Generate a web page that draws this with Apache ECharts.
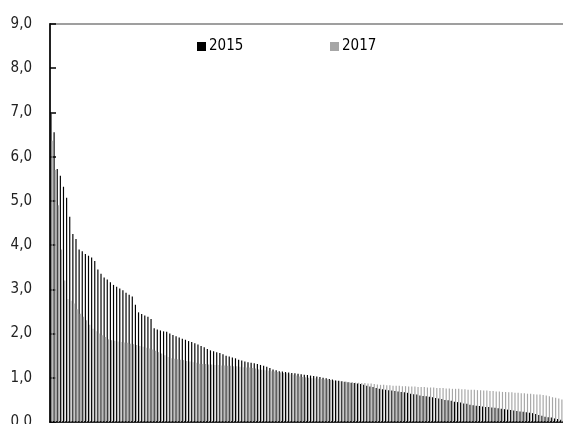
<!DOCTYPE html>
<html>
<head>
<meta charset="utf-8">
<script src="https://cdn.jsdelivr.net/npm/echarts@6/dist/echarts.min.js"></script>
<style>html,body{margin:0;padding:0;background:#fff}#c{width:563px;height:424px}</style>
</head>
<body>
<div id="c"></div>
<script>
var seriesNames = ['2015', '2017'];
var values2015 = [6.97,6.55,5.72,5.57,5.32,5.07,4.64,4.25,4.14,3.90,3.86,3.80,3.76,3.72,3.64,3.45,3.35,3.27,3.22,3.16,
3.10,3.06,3.02,2.98,2.92,2.88,2.84,2.65,2.48,2.44,2.41,2.38,2.33,2.12,2.09,2.07,2.05,2.04,2.00,1.97,
1.94,1.91,1.88,1.86,1.83,1.81,1.78,1.75,1.72,1.69,1.65,1.62,1.60,1.58,1.56,1.53,1.50,1.48,1.46,1.44,
1.41,1.39,1.37,1.35,1.34,1.33,1.31,1.29,1.27,1.25,1.22,1.19,1.17,1.15,1.14,1.13,1.12,1.11,1.10,1.09,
1.08,1.07,1.06,1.05,1.04,1.03,1.02,1.00,0.99,0.97,0.96,0.94,0.93,0.92,0.91,0.90,0.89,0.88,0.87,0.86,
0.84,0.82,0.80,0.79,0.77,0.75,0.74,0.73,0.72,0.71,0.70,0.69,0.68,0.67,0.66,0.64,0.63,0.62,0.60,0.59,
0.58,0.57,0.56,0.54,0.53,0.52,0.50,0.49,0.48,0.46,0.45,0.44,0.42,0.41,0.39,0.38,0.37,0.36,0.35,0.34,
0.34,0.33,0.32,0.31,0.30,0.29,0.28,0.27,0.26,0.25,0.24,0.23,0.22,0.21,0.20,0.18,0.16,0.14,0.12,0.11,
0.10,0.08,0.07,0.05,0.04];
var values2017 = [6.36,5.70,4.90,3.90,3.20,2.78,2.74,2.68,2.55,2.45,2.38,2.30,2.20,2.11,2.05,2.00,1.96,1.92,1.87,1.85,
1.84,1.82,1.81,1.80,1.79,1.77,1.76,1.74,1.72,1.70,1.68,1.66,1.64,1.61,1.58,1.55,1.51,1.47,1.44,1.43,
1.42,1.41,1.40,1.38,1.37,1.35,1.34,1.32,1.31,1.31,1.30,1.30,1.29,1.29,1.28,1.28,1.27,1.27,1.26,1.26,
1.25,1.24,1.23,1.23,1.22,1.21,1.19,1.18,1.17,1.16,1.15,1.14,1.13,1.12,1.11,1.10,1.08,1.07,1.05,1.03,
1.02,1.01,1.00,0.99,0.99,0.98,0.97,0.96,0.96,0.95,0.94,0.93,0.92,0.91,0.91,0.90,0.90,0.89,0.89,0.88,
0.88,0.87,0.87,0.86,0.85,0.84,0.84,0.83,0.83,0.82,0.82,0.82,0.81,0.81,0.80,0.80,0.80,0.79,0.79,0.79,
0.78,0.78,0.78,0.77,0.77,0.77,0.76,0.76,0.75,0.75,0.75,0.74,0.74,0.73,0.73,0.73,0.72,0.72,0.71,0.71,
0.70,0.70,0.69,0.69,0.68,0.68,0.67,0.67,0.66,0.66,0.65,0.65,0.64,0.64,0.63,0.62,0.62,0.61,0.60,0.58,
0.56,0.55,0.53,0.51,0.50];
var categories = values2015.map(function (v, i) { return String(i + 1); });
var yTicks = { min: 0, max: 9, interval: 1 };

var FONT = '"DejaVu Sans Condensed", "Liberation Sans Narrow", sans-serif';
var chart = echarts.init(document.getElementById('c'), null, { renderer: 'canvas' });
function legendAt(name, left) {
  return {
    top: 39, left: left, padding: 0, itemWidth: 9, itemHeight: 9, itemGap: 0, icon: 'rect',
    textStyle: { fontFamily: FONT, fontSize: 15, color: '#000', padding: [0, 0, 0, -2] },
    data: [name]
  };
}
chart.setOption({
  animation: false,
  backgroundColor: '#fff',
  textStyle: { fontFamily: FONT },
  legend: [legendAt(seriesNames[0], 197), legendAt(seriesNames[1], 330)],
  grid: {
    left: 50, right: -3, top: 24, bottom: 2, containLabel: false, outerBoundsMode: 'none',
    show: true, borderColor: '#808080', borderWidth: 1.5, backgroundColor: 'transparent'
  },
  xAxis: {
    type: 'category', data: categories,
    axisLine: { lineStyle: { color: '#000', width: 1.5 } },
    axisTick: { show: false }, axisLabel: { show: false }, splitLine: { show: false }
  },
  yAxis: {
    type: 'value', min: yTicks.min, max: yTicks.max, interval: yTicks.interval,
    axisLine: { show: true, lineStyle: { color: '#222', width: 2 } },
    axisTick: { show: true, inside: true, length: 6, lineStyle: { color: '#000', width: 1.5 } },
    splitLine: { show: false },
    axisLabel: {
      margin: 18, fontSize: 15, color: '#222', fontFamily: FONT,
      formatter: function (v) { return v.toFixed(1).replace('.', ','); }
    }
  },
  series: [
    { name: seriesNames[0], type: 'bar', data: values2015, itemStyle: { color: '#000' },
      barGap: '0%', barCategoryGap: '25%' },
    { name: seriesNames[1], type: 'bar', data: values2017, itemStyle: { color: '#a6a6a6' },
      barGap: '0%', barCategoryGap: '25%' }
  ]
});
</script>
</body>
</html>
